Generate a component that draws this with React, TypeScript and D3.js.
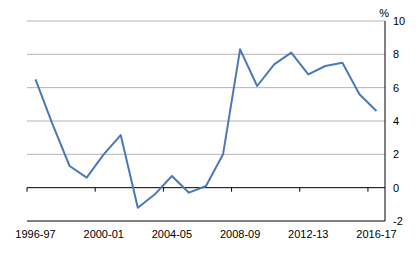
import React from "react";
import * as d3 from "d3";

const categories = ["1996-97","1997-98","1998-99","1999-00","2000-01","2001-02","2002-03","2003-04","2004-05","2005-06","2006-07","2007-08","2008-09","2009-10","2010-11","2011-12","2012-13","2013-14","2014-15","2015-16","2016-17"];
const values = [6.5, 3.8, 1.3, 0.6, 2.0, 3.15, -1.2, -0.4, 0.7, -0.3, 0.1, 2.0, 8.3, 6.1, 7.4, 8.1, 6.8, 7.3, 7.5, 5.6, 4.6];
const yTicks = [-2, 0, 2, 4, 6, 8, 10];
const xLabels = ["1996-97","2000-01","2004-05","2008-09","2012-13","2016-17"];

export default function App() {
  const W = 416, H = 265;
  const left = 27, right = 385, top = 21, bottom = 221;
  const x = d3.scaleBand<string>().domain(categories).range([left, right]);
  const y = d3.scaleLinear().domain([-2, 10]).range([bottom, top]);
  const line = d3.line<number>().x((_, i) => (x(categories[i]) as number) + x.bandwidth() / 2).y(d => y(d));
  const font = "Liberation Sans, Arial, sans-serif";
  const boundaries = categories.map((c, i) => i).filter(i => i % 4 === 0).map(i => x(categories[i]) as number);
  return (
    <svg width={W} height={H} style={{ position: "absolute", left: 0, top: 0 }}>
      <rect width={W} height={H} fill="#fff" />
      {yTicks.filter(t => t > 0).map(t => (
        <line key={t} x1={left} x2={right} y1={y(t)} y2={y(t)} stroke="#b4b4b4" strokeWidth={1} />
      ))}
      <line x1={left} x2={right} y1={y(0)} y2={y(0)} stroke="#000" strokeWidth={1} />
      <line x1={left} x2={right} y1={y(-2)} y2={y(-2)} stroke="#000" strokeWidth={1} />
      {boundaries.map((b, i) => (
        <line key={i} x1={b} x2={b} y1={y(0)} y2={y(0) + 4} stroke="#000" strokeWidth={1} />
      ))}
      <line x1={right} x2={right} y1={top} y2={bottom} stroke="#000" strokeWidth={1} />
      <path d={line(values) || ""} fill="none" stroke="#4a78b9" strokeWidth={2} strokeLinejoin="round" />
      {yTicks.map(t => (
        <text key={t} x={393} y={y(t) + 4} fontSize={11} fontFamily={font} fill="#000">{t}</text>
      ))}
      <text x={389} y={17} fontSize={11} fontFamily={font} textAnchor="end" fill="#000">%</text>
      {xLabels.map(l => (
        <text key={l} x={(x(l) as number) + x.bandwidth() / 2} y={238} fontSize={11} fontFamily={font} textAnchor="middle" fill="#000">{l}</text>
      ))}
    </svg>
  );
}
